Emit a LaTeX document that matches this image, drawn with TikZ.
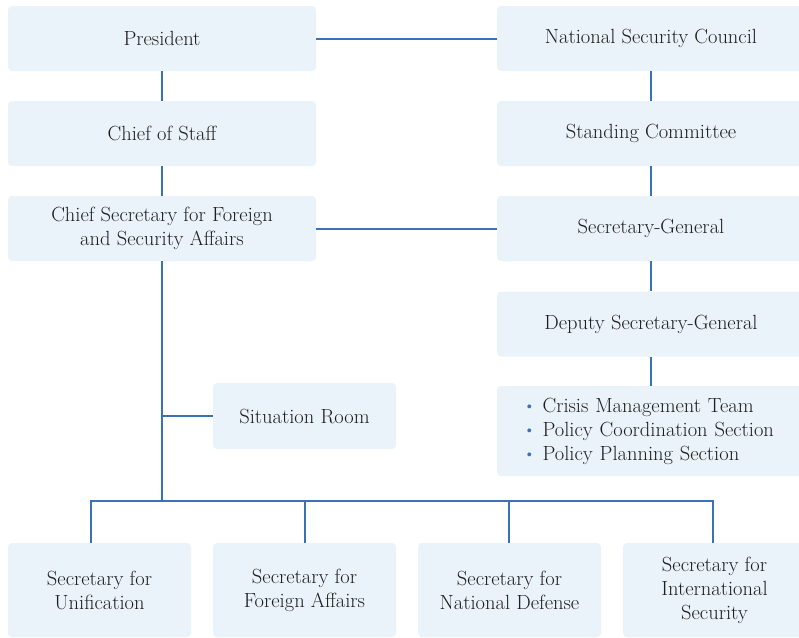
\documentclass[tikz,border=0pt]{standalone}
\usepackage{tikz}

\definecolor{boxfill}{HTML}{EAF3F9}
\definecolor{linkblue}{HTML}{3A72B8}
\definecolor{inkgray}{HTML}{1E1E1E}
\newcommand{\bul}{\textcolor{linkblue}{\raisebox{0.1ex}{\scalebox{0.85}{\textbullet}}}\hspace{7pt}}

\begin{document}
\begin{tikzpicture}[x=1pt,y=-1pt,
		office/.style={fill=boxfill, rounded corners=4pt, minimum width=308pt, minimum height=65pt,
			text=inkgray, align=center, inner sep=0pt, font=\fontsize{20.5}{24}\selectfont},
		secbox/.style={office, minimum width=183pt, minimum height=94pt},
		link/.style={draw=linkblue, line width=2pt}]
			\useasboundingbox (0,0) rectangle (799,637);
			\clip (0,0) rectangle (799,637);
			% left column
			\node[office] (pres) at (162,38.5) {President};
			\node[office] (cos)  at (162,133.5) {Chief of Staff};
			\node[office] (csec) at (162,228.5) {Chief Secretary for Foreign\\and Security Affairs};
			\node[office, minimum width=183pt, minimum height=66pt] (sitroom) at (304.5,416) {Situation Room};
			% right column
			\node[office] (nsc)  at (651,38.5) {National Security Council};
			\node[office] (sc)   at (651,133.5) {Standing Committee};
			\node[office] (sg)   at (651,228.5) {Secretary-General};
			\node[office] (dsg)  at (651,324) {Deputy Secretary-General};
			\node[office, minimum height=90pt, align=left, text width=256pt, inner xsep=26pt] (teams) at (651,431)
				{\mbox{\bul Crisis Management Team}\\\mbox{\bul Policy Coordination Section}\\\mbox{\bul Policy Planning Section}};
			% secretaries
			\node[secbox] (uni) at (99.5,590) {Secretary for\\Unification};
			\node[secbox] (fa)  at (304.5,590) {Secretary for\\Foreign Affairs};
			\node[secbox] (nd)  at (509.5,590) {Secretary for\\National Defense};
			\node[secbox] (is)  at (714.5,590) {Secretary for\\International\\Security};
			\coordinate (bus) at (162,501);
			\coordinate (unitop) at (91,543);
			% links
			\draw[link] (pres) -- (nsc);
			\draw[link] (pres) -- (cos);
			\draw[link] (cos) -- (csec);
			\draw[link] (csec) -- (sg);
			\draw[link] (nsc) -- (sc);
			\draw[link] (sc) -- (sg);
			\draw[link] (sg) -- (dsg);
			\draw[link] (dsg) -- (teams);
			\draw[link] (csec.south) -- (bus);
			\draw[link] (sitroom.west) -- (sitroom.west -| bus);
			\draw[link] (unitop) |- (bus) -| ([xshift=-1.5pt]is.north);
			\draw[link] (fa.north) -- (fa.north |- bus);
			\draw[link] ([xshift=-1pt]nd.north) -- ([xshift=-1pt]nd.north |- bus);
		\end{tikzpicture}
\end{document}
